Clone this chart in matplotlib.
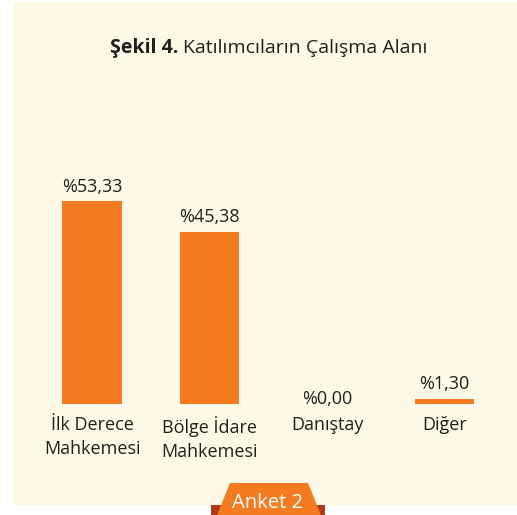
import matplotlib
matplotlib.use('Agg')
import matplotlib.pyplot as plt
from matplotlib.patches import Rectangle, Polygon

plt.rcParams['font.family'] = ['Open Sans', 'DejaVu Sans']

categories = ['İlk Derece\nMahkemesi', 'Bölge İdare\nMahkemesi', 'Danıştay', 'Diğer']
values = [53.33, 45.38, 0.00, 1.30]
value_labels = ['%53,33', '%45,38', '%0,00', '%1,30']

ORANGE = '#F47B20'
CREAM = '#FEF8E6'
TEXT = '#231F20'

W, H = 517, 515
fig = plt.figure(figsize=(W / 100, H / 100), dpi=100, facecolor='white')

# background decorations in pixel coords
bg = fig.add_axes([0, 0, 1, 1], zorder=0)
bg.set_xlim(0, W)
bg.set_ylim(H, 0)
bg.axis('off')
bg.add_patch(Rectangle((13, 2), W - 13, 503, facecolor=CREAM, edgecolor='none'))
bg.add_patch(Rectangle((211, 505), 114, 10, facecolor='#B23A1C', edgecolor='none'))
bg.add_patch(Polygon([(230, 483), (308, 483), (321, 515), (217, 515)],
                     closed=True, facecolor=ORANGE, edgecolor='none'))
bg.text(268, 508, 'Anket 2', color='white', fontsize=14.5, ha='center', va='baseline')

# title
bg.text(178, 53, 'Şekil 4.', fontsize=14, fontweight='bold', color=TEXT,
        ha='right', va='baseline')
bg.text(183, 53, 'Katılımcıların Çalışma Alanı', fontsize=14, color=TEXT,
        ha='left', va='baseline')

# bar chart
left, right = 33.25, 503.25
bottom, top = 404, 100
ax = fig.add_axes([left / W, 1 - bottom / H, (right - left) / W, (bottom - top) / H], zorder=1)
ax.patch.set_alpha(0)
x = list(range(len(categories)))
ax.bar(x, values, width=0.51, color=ORANGE)
ax.set_xlim(-0.5, 3.5)
ax.set_ylim(0, 80)
ax.axis('off')

for xi, v, lab in zip(x, values, value_labels):
    off = 7 if v > 0 else 0
    ax.annotate(lab, (xi, v), xytext=(0, off), textcoords='offset points',
                ha='center', va='baseline', fontsize=13, color=TEXT)
    ax.annotate(categories[xi], (xi, 0), xytext=(0, -9), textcoords='offset points',
                ha='center', va='top', fontsize=13, color=TEXT, linespacing=1.4)

fig.savefig('out.png', dpi=100, facecolor='white')
